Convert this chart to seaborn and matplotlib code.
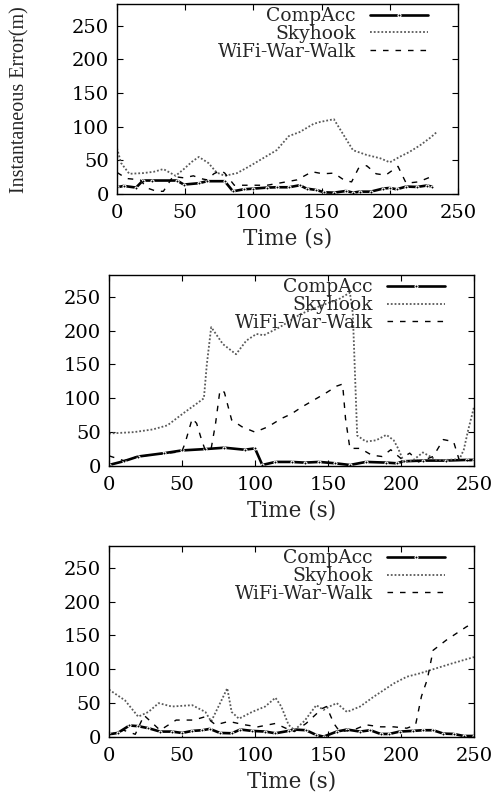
import matplotlib
matplotlib.use("Agg")
import matplotlib.pyplot as plt
import seaborn as sns

# ---- data: time (s) and instantaneous error (m) for each run ----
# Run 1
comp_t1 = [0, 5, 14, 19, 26, 44, 49, 60, 66, 79, 85, 93, 100, 110, 117, 126, 134, 139, 146, 152,
           159, 168, 173, 178, 186, 195, 200, 205, 212, 220, 227, 231]
comp_v1 = [10, 12, 9.5, 20, 20, 20, 14, 16, 19, 19, 4, 7, 8, 9.5, 10, 10, 13, 8, 6, 2.5,
           2, 4.5, 2, 3.5, 3.5, 8, 9, 7, 11, 10.5, 12.5, 11]
sky_t1 = [0, 3, 9, 19, 27, 34, 43, 49, 55, 60, 67, 73, 79, 88, 97, 107, 117, 126, 134, 144,
          149, 159, 166, 173, 183, 193, 200, 208, 214, 222, 230, 235]
sky_v1 = [68, 46, 30, 31, 33, 37, 27, 37, 48, 55, 46, 32, 27, 31, 41, 53, 65, 86, 92, 104,
          107, 111, 88, 65, 58, 53, 47, 56, 62, 72, 84, 93]
wifi_t1 = [0, 7, 17, 22, 29, 34, 41, 49, 56, 61, 66, 71, 76, 79, 86, 95, 110, 124, 132, 143,
           151, 159, 167, 172, 177, 183, 190, 197, 206, 212, 221, 232]
wifi_v1 = [32, 23, 21, 9, 4, 4, 26, 24, 27, 23, 21, 30, 35, 31, 13, 13, 13, 18, 21, 33,
           30, 31, 20, 18, 38, 42, 30, 28, 41, 16, 18, 27]

# Run 2
comp_t2 = [0, 10, 20, 38, 50, 66, 79, 93, 100, 105, 114, 125, 134, 144, 155, 165, 176, 190,
           197, 202, 215, 231, 245, 250]
comp_v2 = [1.5, 7, 14, 19, 23, 25, 27, 24, 26, 1.5, 6, 6, 5, 6, 4, 1.5, 6, 5,
           4, 7, 8, 8, 9, 9]
sky_t2 = [0, 17, 30, 40, 51, 60, 65, 67, 70, 78, 87, 94, 101, 106, 117, 131, 142, 158, 165,
          167, 170, 176, 183, 190, 195, 198, 202, 208, 215, 220, 224, 231, 240, 243, 246, 250]
sky_v2 = [48, 50, 54, 60, 78, 92, 100, 150, 205, 180, 165, 185, 195, 193, 205, 224, 234, 247, 256,
          225, 45, 36, 38, 46, 38, 26, 6, 8, 20, 14, 9, 9, 10, 24, 53, 87]
wifi_t2 = [0, 10, 20, 35, 45, 50, 52, 57, 60, 63.5, 66, 70, 73, 76, 79, 84, 91, 100, 109, 118,
           125, 132, 140, 148, 156, 160, 162, 165, 172, 180, 187, 193, 200, 206, 212, 222, 229,
           236, 240, 250]
wifi_v2 = [15, 8, 14, 18, 20, 22, 33, 70, 63, 38, 23, 26, 63, 112, 109, 68, 58, 50, 58, 70,
           77, 87, 97, 107, 118, 121, 70, 26, 26, 16, 14, 24, 11, 19, 6, 14, 39,
           36, 8, 8]

# Run 3
comp_t3 = [0, 6, 14, 20, 27, 35, 43, 50, 57, 64, 69, 76, 84, 90, 98, 107, 114, 123, 127, 135,
           142, 147, 156, 163, 172, 179, 186, 192, 199, 208, 215, 222, 229, 236, 243, 250]
comp_v3 = [4, 6, 17, 16, 13, 8, 8, 6, 9, 10, 12, 6, 5.5, 11, 9, 8, 5.5, 9, 11, 10,
           3, 0.5, 8, 11, 8, 10, 4.5, 4.5, 8, 9, 10, 10, 5, 4.5, 1.5, 1.5]
sky_t3 = [0, 11, 20, 27, 34, 43, 57, 66, 70, 77, 81, 84, 89, 98, 107, 114, 118, 123, 127, 134,
          142, 147, 151, 156, 163, 172, 181, 188, 195, 204, 213, 222, 234, 250]
sky_v3 = [70, 54, 30, 37, 50, 45, 47, 37, 23, 54, 72, 37, 27, 37, 45, 58, 45, 18, 10, 24,
          47, 40, 45, 50, 37, 45, 59, 69, 79, 89, 94, 100, 108, 118]
wifi_t3 = [0, 10, 18, 24, 35, 46, 58, 66, 73, 82, 93, 102, 114, 121, 127, 135, 140, 146, 149,
           154, 158, 167, 176, 186, 195, 204, 210, 214, 218, 222, 231, 245, 250]
wifi_v3 = [3, 10, 4, 32, 10, 25, 25, 30, 18, 23, 18, 15, 20, 13, 8, 20, 30, 42, 45,
           20, 8, 10, 18, 15, 15, 13, 18, 60, 85, 128, 143, 163, 168]

series_names = ["CompAcc", "Skyhook", "WiFi-War-Walk"]
x_ticks = [0, 50, 100, 150, 200, 250]
y_ticks = [0, 50, 100, 150, 200, 250]
x_label = "Time (s)"
y_label = "Instantaneous Error(m)"

runs = [
    ((comp_t1, comp_v1), (sky_t1, sky_v1), (wifi_t1, wifi_v1)),
    ((comp_t2, comp_v2), (sky_t2, sky_v2), (wifi_t2, wifi_v2)),
    ((comp_t3, comp_v3), (sky_t3, sky_v3), (wifi_t3, wifi_v3)),
]

# ---- styling ----
sns.set_style("ticks")
plt.rcParams["font.family"] = ["DejaVu Serif"]
plt.rcParams["axes.linewidth"] = 1.0
plt.rcParams["axes.edgecolor"] = "black"

line_styles = [
    dict(color="black", linewidth=1.9, linestyle="-", marker="o", markersize=2.2),
    dict(color="0.35", linewidth=1.3, linestyle=(0, (1.0, 1.1))),
    dict(color="black", linewidth=1.0, linestyle=(0, (4.0, 5.0))),
]

fig = plt.figure(figsize=(4.96, 7.96), dpi=100)
W, H = 496.0, 796.0
# panel boxes in pixels: left, top, right, bottom
boxes = [(117, 4, 458, 194), (109, 275, 474, 466), (109, 546, 474, 737)]
legend_x = [0.912, 0.921, 0.921]

for i, (box, data) in enumerate(zip(boxes, runs)):
    l, t, r, b = box
    ax = fig.add_axes([l / W, 1 - b / H, (r - l) / W, (b - t) / H])
    for name, (tt, vv), st in zip(series_names, data, line_styles):
        sns.lineplot(x=tt, y=vv, ax=ax, label=name, estimator=None, sort=False, **st)
    ax.set_xlim(0, 250)
    ax.set_ylim(0, 282)
    ax.set_xticks(x_ticks)
    ax.set_yticks(y_ticks)
    ax.tick_params(direction="in", top=True, right=True, length=4, width=0.8,
                   labelsize=14, colors="black")
    ax.tick_params(axis="x", pad=7)
    ax.tick_params(axis="y", pad=6)
    for s in ax.spines.values():
        s.set_visible(True)
        s.set_color("black")
    ax.set_xlabel(x_label, fontsize=15.5, labelpad=4)
    ax.set_ylabel("")
    ax.legend(loc="upper right", bbox_to_anchor=(legend_x[i], 0.982), frameon=False,
              markerfirst=False, handlelength=3.1, handletextpad=0.75,
              fontsize=13.5, labelspacing=-0.02, borderaxespad=0, borderpad=0)

fig.text(20 / W, 1 - 100 / H, y_label, rotation=90, ha="center", va="center",
         family=["Liberation Serif"], fontsize=14.5)

fig.savefig("out.png", dpi=100)
